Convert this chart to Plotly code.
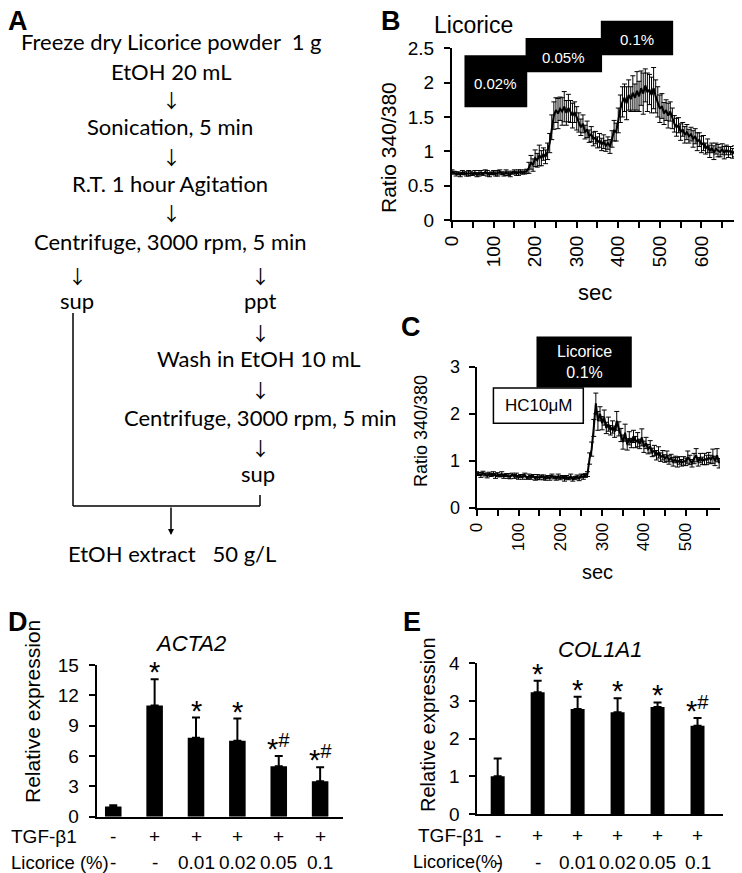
import plotly.graph_objects as go

# the page puts the figure 8px in from the top-left corner
OFF = 8
W, H = 742 - OFF, 873 - OFF

# ---- B: Licorice, ratio 340/380 vs time ----
b_sec = [
    0, 5, 10, 15, 20, 25, 30, 35, 40, 45, 50, 55, 60, 65, 70, 75, 80, 85, 90, 95,
    100, 105, 110, 115, 120, 125, 130, 135, 140, 145, 150, 155, 160, 165, 170, 175,
    180, 185, 190, 195, 200, 205, 210, 215, 220, 225, 230, 235, 240, 245, 250, 255,
    260, 265, 270, 275, 280, 285, 290, 295, 300, 305, 310, 315, 320, 325, 330, 335,
    340, 345, 350, 355, 360, 365, 370, 375, 380, 385, 390, 395, 400, 405, 410, 415,
    420, 425, 430, 435, 440, 445, 450, 455, 460, 465, 470, 475, 480, 485, 490, 495,
    500, 505, 510, 515, 520, 525, 530, 535, 540, 545, 550, 555, 560, 565, 570, 575,
    580, 585, 590, 595, 600, 605, 610, 615, 620, 625, 630, 635, 640, 645, 650, 655,
    660, 665, 670, 675, 680, 685,
]
b_ratio = [
    0.70, 0.69, 0.67, 0.68, 0.66, 0.69, 0.68, 0.67, 0.68, 0.68, 0.67, 0.69, 0.66,
    0.68, 0.69, 0.67, 0.70, 0.68, 0.66, 0.68, 0.69, 0.67, 0.68, 0.70, 0.68, 0.67,
    0.69, 0.68, 0.66, 0.69, 0.70, 0.68, 0.69, 0.70, 0.69, 0.70, 0.71,
    0.76, 0.84, 0.80, 0.90, 0.87, 0.94, 0.90, 0.96, 0.92, 1.00, 1.12, 1.35,
    1.52, 1.60, 1.55, 1.62, 1.58, 1.65, 1.56, 1.63, 1.58, 1.52, 1.57, 1.48,
    1.42, 1.35, 1.40, 1.28, 1.32, 1.22, 1.25, 1.18, 1.20, 1.13, 1.16, 1.10, 1.14,
    1.08, 1.12, 1.07,
    1.18, 1.30, 1.28, 1.45, 1.62, 1.72,
    1.78, 1.70, 1.82, 1.76, 1.85, 1.78, 1.88, 1.80, 1.92, 1.84, 1.96, 1.86, 1.90,
    1.82, 1.92, 1.80,
    1.72, 1.62, 1.66, 1.55, 1.60, 1.52, 1.58, 1.48,
    1.40, 1.35, 1.38, 1.28, 1.32, 1.24, 1.28, 1.22,
    1.25, 1.18, 1.22, 1.14, 1.17, 1.10, 1.12,
    1.04, 1.08, 1.00, 1.05, 0.98, 1.04, 1.01, 0.99, 1.03, 0.98, 1.02, 0.99, 1.01,
    0.97, 1.00, 0.98,
]
b_err = [
    0.03, 0.02, 0.03, 0.02, 0.03, 0.03, 0.02, 0.03, 0.04, 0.03, 0.02, 0.03, 0.03,
    0.04, 0.03, 0.02, 0.03, 0.04, 0.03, 0.02, 0.03, 0.03, 0.04, 0.03, 0.02, 0.03,
    0.04, 0.03, 0.03, 0.02, 0.03, 0.03, 0.04, 0.03, 0.02, 0.03, 0.03,
    0.08, 0.10, 0.09, 0.12, 0.10, 0.15, 0.11, 0.09, 0.10, 0.12, 0.14, 0.18,
    0.20, 0.18, 0.22, 0.17, 0.20, 0.22, 0.18, 0.20, 0.16, 0.18, 0.15, 0.17,
    0.14, 0.12, 0.13, 0.10, 0.12, 0.09, 0.11, 0.10, 0.09, 0.08, 0.10, 0.09, 0.10,
    0.08, 0.09, 0.10,
    0.12, 0.15, 0.13, 0.18, 0.20, 0.22,
    0.20, 0.24, 0.22, 0.18, 0.25, 0.20, 0.28, 0.22, 0.25, 0.30, 0.24, 0.28, 0.22,
    0.26, 0.30, 0.24,
    0.22, 0.20, 0.18, 0.16, 0.15, 0.18, 0.14, 0.15,
    0.12, 0.13, 0.11, 0.12, 0.10, 0.12, 0.11, 0.10,
    0.10, 0.12, 0.11, 0.13, 0.10, 0.12, 0.11,
    0.08, 0.10, 0.09, 0.07, 0.10, 0.08, 0.09, 0.07, 0.08, 0.09, 0.07, 0.08, 0.06,
    0.07, 0.08, 0.06,
]
b_doses = ["0.02%", "0.05%", "0.1%"]
b_dose_sec = [(30, 181), (177, 361), (358, 532)]
b_dose_ratio = [(1.64, 2.40), (2.15, 2.65), (2.40, 2.90)]

# ---- C: HC10uM then Licorice 0.1% ----
c_sec = [
    0, 5, 10, 15, 20, 25, 30, 35, 40, 45, 50, 55, 60, 65, 70, 75, 80, 85, 90, 95,
    100, 105, 110, 115, 120, 125, 130, 135, 140, 145, 150, 155, 160, 165, 170, 175,
    180, 185, 190, 195, 200, 205, 210, 215, 220, 225, 230, 235, 240, 245, 250, 255,
    260, 265, 270, 275, 280, 285, 290, 295, 300, 305, 310, 315, 320, 325, 330, 335,
    340, 345, 350, 355, 360, 365, 370, 375, 380, 385, 390, 395, 400, 405, 410, 415,
    420, 425, 430, 435, 440, 445, 450, 455, 460, 465, 470, 475, 480, 485, 490, 495,
    500, 505, 510, 515, 520, 525, 530, 535, 540, 545, 550, 555, 560, 565, 570, 575,
    580,
]
c_ratio = [
    0.73, 0.72, 0.70, 0.74, 0.71, 0.69, 0.72, 0.70, 0.73, 0.68,
    0.71, 0.69, 0.72, 0.67, 0.70, 0.68, 0.66, 0.71, 0.67, 0.69,
    0.65, 0.68, 0.66, 0.70, 0.64, 0.67, 0.65, 0.68, 0.63, 0.66,
    0.64, 0.67, 0.65, 0.63, 0.66, 0.64, 0.68, 0.65, 0.63, 0.67,
    0.64, 0.66, 0.62, 0.65, 0.63, 0.67, 0.61, 0.64, 0.66, 0.63,
    0.68, 0.66, 0.69,
    0.72, 1.05, 1.25, 1.70, 2.22, 1.85, 2.00,
    1.80, 1.92, 1.70, 1.78, 1.65, 1.72, 1.62, 1.85, 1.68,
    1.55, 1.40, 1.60, 1.35, 1.48, 1.38, 1.52, 1.40, 1.45, 1.36, 1.50, 1.30,
    1.38, 1.25, 1.30, 1.18, 1.22, 1.12, 1.18, 1.08, 1.12, 1.05, 1.10, 1.02,
    1.06, 0.98, 1.03, 0.97, 1.01, 0.96, 1.00, 0.98, 1.08, 1.02, 0.95, 1.05,
    1.12, 0.98, 1.06, 1.00, 1.04, 1.02, 1.07, 1.03, 1.10, 1.00, 1.12, 0.95,
]
c_err = [
    0.04, 0.03, 0.05, 0.04, 0.03, 0.05, 0.04, 0.03, 0.04, 0.05,
    0.04, 0.03, 0.05, 0.04, 0.03, 0.05, 0.04, 0.03, 0.04, 0.05,
    0.04, 0.03, 0.05, 0.04, 0.03, 0.05, 0.04, 0.03, 0.04, 0.05,
    0.04, 0.03, 0.05, 0.04, 0.03, 0.05, 0.04, 0.03, 0.04, 0.05,
    0.04, 0.03, 0.05, 0.04, 0.03, 0.05, 0.04, 0.03, 0.04, 0.05,
    0.04, 0.05, 0.04,
    0.05, 0.12, 0.15, 0.18, 0.22, 0.20, 0.15,
    0.14, 0.16, 0.12, 0.15, 0.10, 0.13, 0.12, 0.20, 0.15,
    0.14, 0.15, 0.18, 0.12, 0.14, 0.10, 0.13, 0.12, 0.15, 0.10, 0.18, 0.12,
    0.12, 0.10, 0.13, 0.09, 0.11, 0.10, 0.12, 0.09, 0.10, 0.08, 0.11, 0.09,
    0.08, 0.09, 0.07, 0.10, 0.08, 0.07, 0.09, 0.08, 0.13, 0.10, 0.08, 0.11,
    0.14, 0.09, 0.10, 0.08, 0.12, 0.10, 0.11, 0.09, 0.15, 0.10, 0.14, 0.10,
]

# ---- D / E: relative expression ----
groups = [0, 1, 2, 3, 4, 5]
tgf_row = ["-", "+", "+", "+", "+", "+"]
lic_row = ["-", "-", "0.01", "0.02", "0.05", "0.1"]
acta2 = [1.0, 11.0, 7.8, 7.5, 5.0, 3.5]
acta2_err = [0.12, 2.6, 2.0, 2.2, 1.0, 1.4]
acta2_sig = ["", "*", "*", "*", "*#", "*#"]
col1a1 = [1.0, 3.23, 2.79, 2.70, 2.84, 2.34]
col1a1_err = [0.47, 0.31, 0.32, 0.37, 0.12, 0.21]
col1a1_sig = ["", "*", "*", "*", "*", "*#"]

# ---- A: extraction flow ----
flow_text = [
    ("Freeze dry Licorice powder  1 g", 171, 42),
    ("EtOH 20 mL", 171, 72),
    ("Sonication, 5 min", 170, 127),
    ("R.T. 1 hour Agitation", 170, 183),
    ("Centrifuge, 3000 rpm, 5 min", 170, 242),
    ("sup", 77, 300),
    ("ppt", 260, 300),
    ("Wash in EtOH 10 mL", 259, 358),
    ("Centrifuge, 3000 rpm, 5 min", 260, 417),
    ("sup", 258, 473),
    ("EtOH extract   50 g/L", 172, 553),
]
flow_arrows = [(171, 99), (171, 156), (171, 213), (77, 275), (260, 275),
               (260, 332), (260, 389), (260, 447)]

FONT = "Liberation Sans, Arial, sans-serif"


def px(x):
    return (x - OFF) / W


def py(y):
    return 1 - (y - OFF) / H


def dom(v, lo, hi):
    return (v - lo) / (hi - lo)


fig = go.Figure()

line_b = dict(color="black", width=2)
fig.add_trace(go.Scatter(x=b_sec, y=b_ratio, mode="lines", line=line_b,
                         error_y=dict(type="data", array=b_err, color="black",
                                      thickness=1, width=2.5),
                         xaxis="x", yaxis="y", showlegend=False))
fig.add_trace(go.Scatter(x=c_sec, y=c_ratio, mode="lines", line=line_b,
                         error_y=dict(type="data", array=c_err, color="black",
                                      thickness=1, width=2.5),
                         xaxis="x2", yaxis="y2", showlegend=False))
fig.add_trace(go.Bar(x=groups, y=acta2, width=0.4, marker=dict(color="black", line=dict(width=0)),
                     error_y=dict(type="data", array=acta2_err, arrayminus=[0] * 6,
                                  symmetric=False, color="black", thickness=2, width=4),
                     xaxis="x3", yaxis="y3", showlegend=False))
fig.add_trace(go.Bar(x=groups, y=col1a1, width=0.35, marker=dict(color="black", line=dict(width=0)),
                     error_y=dict(type="data", array=col1a1_err, arrayminus=[0] * 6,
                                  symmetric=False, color="black", thickness=2, width=4),
                     xaxis="x4", yaxis="y4", showlegend=False))

axis_common = dict(showline=True, linecolor="black", linewidth=2, ticks="outside",
                   ticklen=6, tickwidth=2, tickcolor="black", showgrid=False,
                   zeroline=False, automargin=False,
                   tickfont=dict(family=FONT, size=19, color="black"))

b_range_x, b_range_y = [0, 688], [0, 2.5]
c_range_x, c_range_y = [0, 582], [0, 3]
b_ticks = [0, 50, 100, 150, 200, 250, 300, 350, 400, 450, 500, 550, 600, 650]
c_ticks = [0, 50, 100, 150, 200, 250, 300, 350, 400, 450, 500, 550]

fig.update_layout(
    template="none",
    width=W, height=H, margin=dict(l=0, r=0, t=0, b=0, pad=0, autoexpand=False),
    paper_bgcolor="white", plot_bgcolor="white",
    xaxis=dict(axis_common, domain=[px(452), px(738)], range=b_range_x, anchor="y",
               tickvals=b_ticks, ticktext=[str(t) if t % 100 == 0 else " " for t in b_ticks],
               tickangle=-90),
    yaxis=dict(axis_common, domain=[py(220), py(48.3)], range=b_range_y, anchor="x",
               ticklabelstandoff=6,
               tickvals=[0, 0.5, 1, 1.5, 2, 2.5], ticktext=["0", "0.5", "1", "1.5", "2", "2.5"]),
    xaxis2=dict(axis_common, domain=[px(476.7), px(720)], range=c_range_x, anchor="y2",
                tickvals=c_ticks, ticktext=[str(t) if t % 100 == 0 else " " for t in c_ticks],
                tickangle=-90, tickfont=dict(family=FONT, size=17, color="black")),
    yaxis2=dict(axis_common, domain=[py(508), py(366.7)], range=c_range_y, anchor="x2",
                ticklabelstandoff=5,
                tickvals=[0, 1, 2, 3], tickfont=dict(family=FONT, size=18, color="black")),
    xaxis3=dict(axis_common, domain=[px(96.7), px(343.3)], range=[-0.4, 5.56], anchor="y3",
                ticks="", showticklabels=False),
    yaxis3=dict(axis_common, domain=[py(816.7), py(665)], range=[0, 15], anchor="x3",
                ticklabelstandoff=6, tickvals=[0, 3, 6, 9, 12, 15]),
    xaxis4=dict(axis_common, domain=[px(477.3), px(722.7)], range=[-0.51, 5.63], anchor="y4",
                ticks="", showticklabels=False),
    yaxis4=dict(axis_common, domain=[py(814), py(663.3)], range=[0, 4], anchor="x4",
                ticklabelstandoff=6, tickvals=[0, 1, 2, 3, 4]),
)

ann = []
shapes = []


def text(t, x, y, size, family=FONT, xanchor="center", **kw):
    ann.append(dict(text=t, x=px(x), y=py(y), xref="paper", yref="paper", showarrow=False,
                    xanchor=xanchor, yanchor="middle",
                    font=dict(family=family, size=size, color="black"), **kw))


# panel letters
for letter, x, y in [("A", 18, 21), ("B", 391, 21), ("C", 411, 327), ("D", 18, 622), ("E", 412, 622)]:
    text("<b>" + letter + "</b>", x, y, 27)

# A: flow chart
for t, x, y in flow_text:
    text(t, x, y, 22, family="Lato, sans-serif")
for x, y in flow_arrows:
    text("↓", x, y, 19, family="Noto Sans CJK SC")
for x0, y0, x1, y1 in [(73, 313, 73, 506), (73, 506, 260, 506), (260, 495, 260, 506)]:
    shapes.append(dict(type="line", xref="paper", yref="paper", x0=px(x0), y0=py(y0),
                       x1=px(x1), y1=py(y1), line=dict(color="black", width=1.5)))
ann.append(dict(x=px(171), y=py(535), xref="paper", yref="paper", ax=0, ay=-29, text="",
                showarrow=True, arrowhead=2, arrowsize=0.8, arrowwidth=1.5, arrowcolor="black"))

# B labels
text("Licorice", 473, 25, 23)
text("Ratio 340/380", 389, 147, 21, textangle=-90)
text("sec", 595, 292, 22)
for lab, (s0, s1), (r0, r1) in zip(b_doses, b_dose_sec, b_dose_ratio):
    shapes.append(dict(type="rect", xref="x domain", yref="y domain",
                       x0=dom(s0, *b_range_x), x1=dom(s1, *b_range_x),
                       y0=dom(r0, *b_range_y), y1=dom(r1, *b_range_y),
                       fillcolor="black", line=dict(width=0)))
    ann.append(dict(text=lab, xref="x domain", yref="y domain", showarrow=False,
                    xanchor="center", yanchor="middle",
                    x=dom((s0 + s1) / 2, *b_range_x), y=dom((r0 + r1) / 2, *b_range_y),
                    yshift=-2, font=dict(family=FONT, size=15, color="white")))

# C labels
text("Ratio 340/380", 421, 431, 18, textangle=-90)
text("sec", 597, 572, 20)
shapes.append(dict(type="rect", xref="x2 domain", yref="y2 domain",
                   x0=dom(143, *c_range_x), x1=dom(371, *c_range_x),
                   y0=dom(2.56, *c_range_y), y1=dom(3.64, *c_range_y),
                   fillcolor="black", line=dict(width=0)))
ann.append(dict(text="Licorice<br>0.1%", xref="x2 domain", yref="y2 domain", showarrow=False,
                xanchor="center", yanchor="middle",
                x=dom(257, *c_range_x), y=dom(3.10, *c_range_y),
                font=dict(family=FONT, size=16, color="white")))
shapes.append(dict(type="rect", xref="x2 domain", yref="y2 domain",
                   x0=dom(40, *c_range_x), x1=dom(255, *c_range_x),
                   y0=dom(1.80, *c_range_y), y1=dom(2.55, *c_range_y),
                   fillcolor="white", line=dict(color="black", width=1.5)))
ann.append(dict(text="HC10μM", xref="x2 domain", yref="y2 domain", showarrow=False,
                xanchor="center", yanchor="middle",
                x=dom(147, *c_range_x), y=dom(2.17, *c_range_y),
                font=dict(family=FONT, size=17, color="black")))

# D / E labels
text("<i>ACTA2</i>", 190, 643, 22)
text("<i>COL1A1</i>", 600, 649, 22)
text("Relative expression", 32, 712, 21, textangle=-90)
text("Relative expression", 428, 725, 20, textangle=-90)
text("TGF-β1", 9, 836, 19, xanchor="left")
text("Licorice (%)", 9, 862, 18.5, xanchor="left")
text("TGF-β1", 416, 835, 19, xanchor="left")
text("Licorice(%)", 411, 862, 18, xanchor="left")

for xa, ya, vals, errs, sig, y_tgf, y_lic in [
        ("x3", "y3", acta2, acta2_err, acta2_sig, 836, 862),
        ("x4", "y4", col1a1, col1a1_err, col1a1_sig, 835, 862)]:
    for g, v, e, s, tg, lc in zip(groups, vals, errs, sig, tgf_row, lic_row):
        ann.append(dict(text=tg, x=g, y=py(y_tgf), xref=xa, yref="paper", showarrow=False,
                        xanchor="center", yanchor="middle",
                        font=dict(family=FONT, size=19, color="black")))
        ann.append(dict(text=lc, x=g, y=py(y_lic), xref=xa, yref="paper", showarrow=False,
                        xanchor="center", yanchor="middle",
                        font=dict(family=FONT, size=19, color="black")))
        if s:
            label = s.replace("#", "<sup>#</sup>")
            ann.append(dict(text=label, x=g, y=v + e, xref=xa, yref=ya, showarrow=False,
                            xanchor="center", yanchor="bottom", yshift=-11,
                            font=dict(family=FONT, size=29, color="black")))

fig.update_layout(annotations=ann, shapes=shapes)
fig.write_html("out.html")
